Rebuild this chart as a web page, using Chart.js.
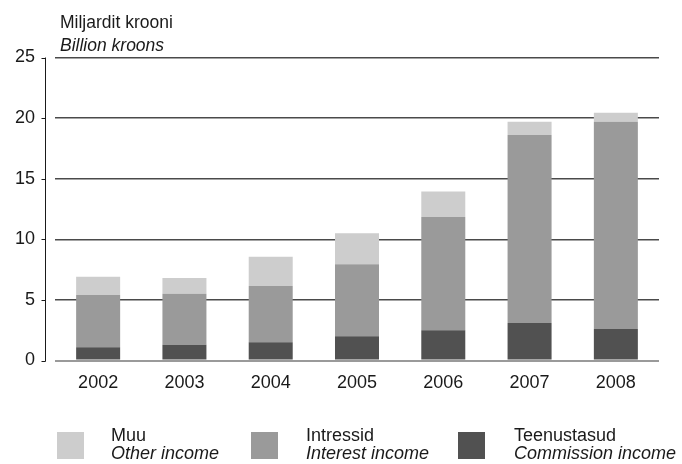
<!DOCTYPE html>
<html>
<head>
<meta charset="utf-8">
<script src="https://cdn.jsdelivr.net/npm/chart.js@4.4.1/dist/chart.umd.min.js"></script>
<style>
  html, body { margin: 0; padding: 0; background: #ffffff; }
  #wrap { position: relative; width: 682px; height: 464px; font-family: "Liberation Sans", Arial, sans-serif; color: #1a1a1a; }
  #c { position: absolute; left: 0; top: 0; }
  .t { position: absolute; font-size: 18px; line-height: 18px; white-space: nowrap; }
  .title { font-size: 17.5px; }
  .i { font-style: italic; }
  .box { position: absolute; width: 27px; height: 27px; }
</style>
</head>
<body>
<div id="wrap">
  <canvas id="c" width="682" height="464"></canvas>
  <div class="t title" style="left:60px; top:13px;">Miljardit krooni</div>
  <div class="t title i" style="left:60px; top:36px;">Billion kroons</div>
  <div id="legend"></div>
</div>
<script>
// ---- data ----
const categories = ['2002', '2003', '2004', '2005', '2006', '2007', '2008'];
const commissionIncome = [1.1, 1.3, 1.5, 2.0, 2.5, 3.1, 2.6];     // Teenustasud
const interestIncome   = [4.3, 4.2, 4.65, 5.95, 9.35, 15.5, 17.1]; // Intressid
const otherIncome      = [1.5, 1.3, 2.4, 2.55, 2.1, 1.1, 0.75];    // Muu
const yTicks = [0, 5, 10, 15, 20, 25];

const seriesNamesEt = ['Muu', 'Intressid', 'Teenustasud'];
const seriesNamesEn = ['Other income', 'Interest income', 'Commission income'];
const colors = { other: '#cdcdcd', interest: '#9a9a9a', commission: '#515151' };

// ---- legend (HTML) ----
const legendItems = [
  { et: seriesNamesEt[0], en: seriesNamesEn[0], color: colors.other, x: 57, tx: 111 },
  { et: seriesNamesEt[1], en: seriesNamesEn[1], color: colors.interest, x: 251, tx: 306 },
  { et: seriesNamesEt[2], en: seriesNamesEn[2], color: colors.commission, x: 458, tx: 514 }
];
const legend = document.getElementById('legend');
legendItems.forEach(it => {
  const b = document.createElement('div');
  b.className = 'box';
  b.style.left = it.x + 'px'; b.style.top = '432px'; b.style.background = it.color;
  legend.appendChild(b);
  const l1 = document.createElement('div');
  l1.className = 't'; l1.textContent = it.et;
  l1.style.left = it.tx + 'px'; l1.style.top = '425.5px';
  legend.appendChild(l1);
  const l2 = document.createElement('div');
  l2.className = 't i'; l2.textContent = it.en;
  l2.style.left = it.tx + 'px'; l2.style.top = '443.5px';
  legend.appendChild(l2);
});

// ---- y axis line with ticks, offset left of grid ----
const axisLinePlugin = {
  id: 'axisLine',
  afterDraw(chart) {
    const ys = chart.scales.y;
    const ctx = chart.ctx;
    const x = Math.round(chart.chartArea.left - 10) + 0.5;
    ctx.save();
    ctx.strokeStyle = '#1a1a1a';
    ctx.lineWidth = 1;
    ctx.beginPath();
    ctx.moveTo(x, ys.getPixelForValue(yTicks[yTicks.length - 1]));
    ctx.lineTo(x, ys.getPixelForValue(0) + 1);
    yTicks.forEach(v => {
      const y = Math.round(ys.getPixelForValue(v)) + 0.5;
      ctx.moveTo(x - 4, y);
      ctx.lineTo(x, y);
    });
    ctx.stroke();
    ctx.restore();
  }
};

new Chart(document.getElementById('c'), {
  type: 'bar',
  data: {
    labels: categories,
    datasets: [
      { label: seriesNamesEt[2], data: commissionIncome, backgroundColor: colors.commission },
      { label: seriesNamesEt[1], data: interestIncome, backgroundColor: colors.interest },
      { label: seriesNamesEt[0], data: otherIncome, backgroundColor: colors.other }
    ]
  },
  options: {
    responsive: false,
    animation: false,
    devicePixelRatio: 1,
    barPercentage: 0.51,
    categoryPercentage: 1,
    layout: { padding: { top: 57.5, right: 23, left: 0, bottom: 0 } },
    plugins: { legend: { display: false }, tooltip: { enabled: false } },
    scales: {
      x: {
        stacked: true,
        grid: { display: false, drawTicks: false },
        border: { display: false },
        ticks: { color: '#1a1a1a', font: { family: 'Liberation Sans', size: 18 }, padding: 12 },
        afterFit(scale) { scale.height = 103.5; }
      },
      y: {
        stacked: true,
        min: 0, max: 25,
        afterBuildTicks(scale) { scale.ticks = yTicks.map(v => ({ value: v })); },
        grid: {
          drawTicks: false,
          color: c => (c.tick && c.tick.value === 0) ? '#9a9a9a' : '#4a4a4a',
          lineWidth: c => (c.tick && c.tick.value === 0) ? 2 : 1.5
        },
        border: { display: false },
        ticks: { color: '#1a1a1a', font: { family: 'Liberation Sans', size: 18 }, padding: 20 },
        afterFit(scale) { scale.width = 55; }
      }
    }
  },
  plugins: [axisLinePlugin]
});
</script>
</body>
</html>
